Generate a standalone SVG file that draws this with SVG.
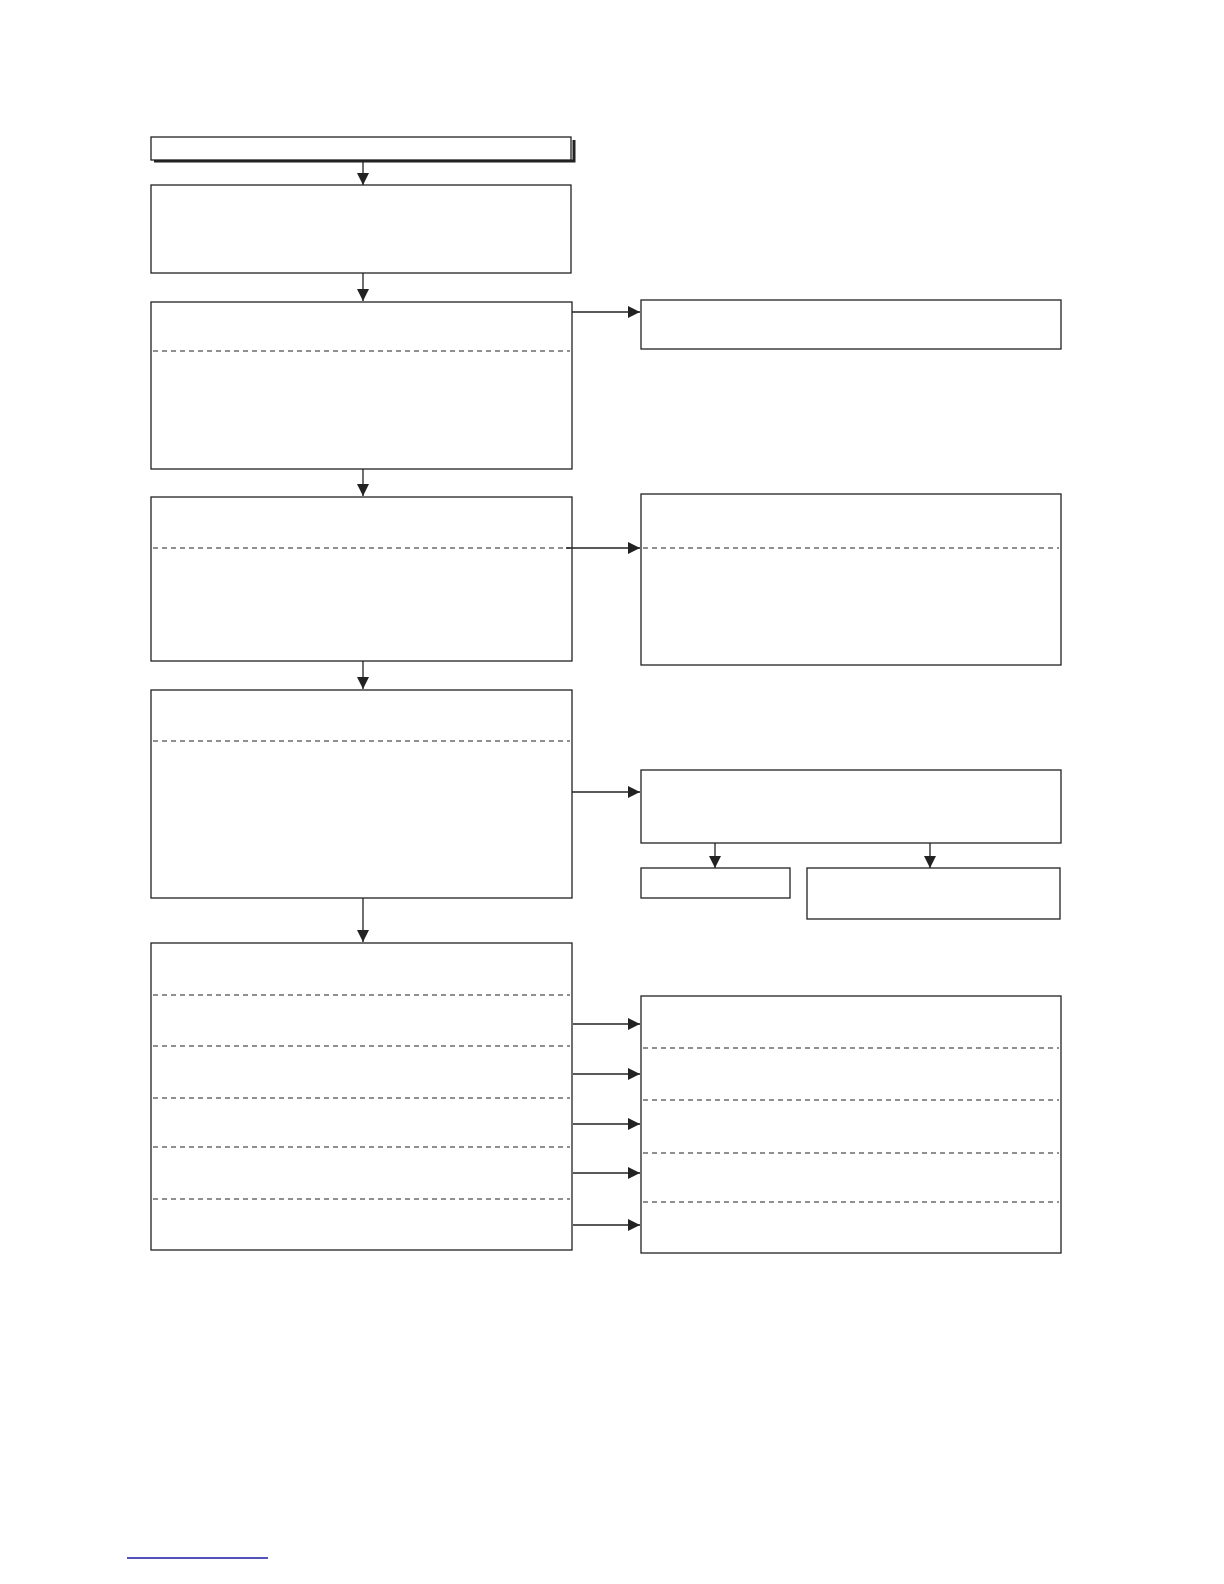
<svg xmlns="http://www.w3.org/2000/svg" width="1224" height="1584" viewBox="0 0 1224 1584">
<style>
.b{fill:#fff;stroke:#222;stroke-width:1.3}
.d{stroke:#222;stroke-width:1.1;stroke-dasharray:5,4;fill:none}
.c line{stroke:#222;stroke-width:1.3;marker-end:url(#a)}
</style>
<defs><marker id="a" viewBox="0 0 10 10" refX="10" refY="5" markerWidth="12" markerHeight="12" markerUnits="userSpaceOnUse" orient="auto"><path d="M0,0L10,5L0,10z" fill="#222"/></marker></defs>
<rect width="1224" height="1584" fill="#fff"/>
<g id="n1"><path d="M154,161H574V140" fill="none" stroke="#222" stroke-width="3"/><rect class="b" x="151" y="137" width="420" height="23"/></g>
<g id="n2"><rect class="b" x="151" y="185" width="420" height="88"/></g>
<g id="n3"><rect class="b" x="151" y="302" width="421" height="167"/><line class="d" x1="153" y1="351" x2="570" y2="351"/></g>
<g id="n4"><rect class="b" x="641" y="300" width="420" height="49"/></g>
<g id="n5"><rect class="b" x="151" y="497" width="421" height="164"/><line class="d" x1="153" y1="548" x2="570" y2="548"/></g>
<g id="n6"><rect class="b" x="641" y="494" width="420" height="171"/><line class="d" x1="643" y1="548" x2="1059" y2="548"/></g>
<g id="n7"><rect class="b" x="151" y="690" width="421" height="208"/><line class="d" x1="153" y1="741" x2="570" y2="741"/></g>
<g id="n8"><rect class="b" x="641" y="770" width="420" height="73"/></g>
<g id="n9"><rect class="b" x="641" y="868" width="149" height="30"/></g>
<g id="n10"><rect class="b" x="807" y="868" width="253" height="51"/></g>
<g id="n11"><rect class="b" x="151" y="943" width="421" height="307"/>
<line class="d" x1="153" y1="995" x2="570" y2="995"/><line class="d" x1="153" y1="1046" x2="570" y2="1046"/><line class="d" x1="153" y1="1098" x2="570" y2="1098"/><line class="d" x1="153" y1="1147" x2="570" y2="1147"/><line class="d" x1="153" y1="1199" x2="570" y2="1199"/></g>
<g id="n12"><rect class="b" x="641" y="996" width="420" height="257"/>
<line class="d" x1="643" y1="1048" x2="1059" y2="1048"/><line class="d" x1="643" y1="1100" x2="1059" y2="1100"/><line class="d" x1="643" y1="1153" x2="1059" y2="1153"/><line class="d" x1="643" y1="1202" x2="1059" y2="1202"/></g>
<g class="c" id="connectors">
<line x1="363" y1="161" x2="363" y2="185"/>
<line x1="363" y1="273" x2="363" y2="301"/>
<line x1="363" y1="469" x2="363" y2="496"/>
<line x1="363" y1="661" x2="363" y2="689"/>
<line x1="363" y1="898" x2="363" y2="942"/>
<line x1="572" y1="312" x2="640" y2="312"/>
<line x1="566" y1="548" x2="640" y2="548"/>
<line x1="572" y1="792" x2="640" y2="792"/>
<line x1="715" y1="843" x2="715" y2="868"/>
<line x1="930" y1="843" x2="930" y2="868"/>
<line x1="573" y1="1024" x2="640" y2="1024"/>
<line x1="573" y1="1074" x2="640" y2="1074"/>
<line x1="573" y1="1124" x2="640" y2="1124"/>
<line x1="573" y1="1173" x2="640" y2="1173"/>
<line x1="573" y1="1225" x2="640" y2="1225"/>
</g>
<line x1="127" y1="1558" x2="268" y2="1558" stroke="#1a1aa0" stroke-width="1.3"/>
</svg>
